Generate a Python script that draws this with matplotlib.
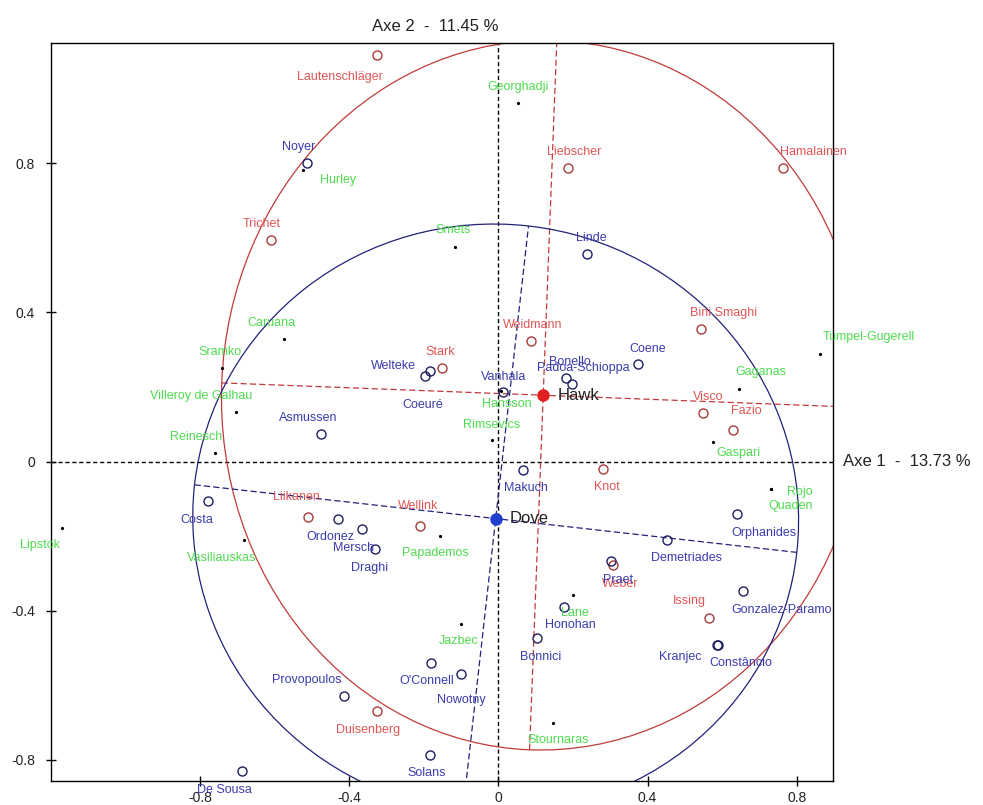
import matplotlib
matplotlib.use("Agg")
import matplotlib.pyplot as plt
from matplotlib.patches import Ellipse
import numpy as np

plt.rcParams['font.family'] = ['Liberation Sans', 'DejaVu Sans']

# ---------------- data ----------------
# Hawk group (red)
hawk_names = ["Lautenschläger", "Trichet", "Liebscher", "Hamalainen", "Stark", "Weidmann",
              "Bini Smaghi", "Visco", "Fazio", "Knot", "Liikanen", "Wellink", "Weber",
              "Issing", "Duisenberg"]
hawk_x = [-0.327, -0.609, 0.187, 0.763, -0.152, 0.086, 0.543, 0.550, 0.630, 0.280,
          -0.511, -0.211, 0.308, 0.565, -0.327]
hawk_y = [1.091, 0.594, 0.788, 0.788, 0.251, 0.324, 0.357, 0.130, 0.086, -0.019,
          -0.149, -0.173, -0.277, -0.419, -0.670]
hawk_ldx = [-0.099, -0.027, 0.016, 0.082, -0.003, 0.007, 0.060, 0.013, 0.036, 0.010,
            -0.031, -0.004, 0.018, -0.053, -0.023]
hawk_ldy = [-0.058, 0.043, 0.042, 0.042, 0.043, 0.042, 0.042, 0.043, 0.050, -0.049,
            0.054, 0.053, -0.051, 0.044, -0.049]

# Dove group (blue)
dove_names = ["Noyer", "Linde", "Welteke", "Coeuré", "Vanhala", "Bonello", "Padoa-Schioppa",
              "Coene", "Asmussen", "Makuch", "Costa", "Ordonez", "Mersch", "Draghi", "Praet",
              "Demetriades", "Orphanides", "Gonzalez-Paramo", "Honohan", "Bonnici", "Kranjec",
              "Constâncio", "Provopoulos", "O'Connell", "Nowotny", "Solans", "De Sousa"]
dove_x = [-0.513, 0.237, -0.184, -0.197, 0.011, 0.181, 0.197, 0.375, -0.477, 0.067,
          -0.779, -0.430, -0.367, -0.332, 0.302, 0.452, 0.641, 0.657, 0.177, 0.104,
          0.587, 0.590, -0.415, -0.182, -0.101, -0.184, -0.689]
dove_y = [0.802, 0.557, 0.242, 0.229, 0.187, 0.223, 0.207, 0.261, 0.075, -0.023,
          -0.106, -0.155, -0.180, -0.235, -0.268, -0.211, -0.141, -0.348, -0.390, -0.474,
          -0.491, -0.493, -0.630, -0.540, -0.569, -0.788, -0.831]
dove_ldx = [-0.024, 0.011, -0.098, -0.005, 0.002, 0.011, 0.031, 0.026, -0.034, 0.007,
            -0.031, -0.022, -0.023, -0.013, 0.020, 0.053, 0.070, 0.103, 0.015, 0.009,
            -0.100, 0.060, -0.100, -0.011, 0.000, -0.009, -0.045]
dove_ldy = [0.043, 0.044, 0.014, -0.078, 0.040, 0.044, 0.043, 0.042, 0.043, -0.049,
            -0.050, -0.047, -0.051, -0.051, -0.049, -0.048, -0.051, -0.049, -0.048, -0.049,
            -0.032, -0.048, 0.043, -0.049, -0.072, -0.048, -0.050]

# Unclassified (green)
other_names = ["Georghadji", "Hurley", "Smets", "Caruana", "Sramko", "Villeroy de Galhau",
               "Reinesch", "Hansson", "Rimsevics", "Tumpel-Gugerell", "Gaganas", "Gaspari",
               "Rojo", "Quaden", "Lipstok", "Vasiliauskas", "Papademos", "Jazbec", "Lane",
               "Stournaras"]
other_x = [0.052, -0.525, -0.117, -0.575, -0.742, -0.705, -0.761, 0.008, -0.017, 0.863,
           0.646, 0.575, 0.732, 0.732, -1.171, -0.682, -0.157, -0.101, 0.201, 0.146]
other_y = [0.961, 0.782, 0.576, 0.330, 0.250, 0.132, 0.023, 0.188, 0.057, 0.288,
           0.196, 0.053, -0.074, -0.074, -0.177, -0.211, -0.200, -0.435, -0.357, -0.702]
other_ldx = [0.001, 0.095, -0.004, -0.034, -0.006, -0.092, -0.049, 0.014, -0.001, 0.130,
             0.059, 0.069, 0.077, 0.051, -0.060, -0.061, -0.011, -0.007, 0.004, 0.015]
other_ldy = [0.043, -0.027, 0.045, 0.043, 0.043, 0.043, 0.043, -0.034, 0.042, 0.045,
             0.045, -0.030, -0.008, -0.046, -0.048, -0.048, -0.045, -0.047, -0.048, -0.046]

# Class centres and ellipses
class_names = ["Hawk", "Dove"]
class_x = [0.120, -0.0075]
class_y = [0.178, -0.153]
ell_a = [0.863, 0.813]      # semi-axis 1
ell_b = [0.952, 0.790]      # semi-axis 2
ell_angle = [-2.2, -6.4]    # degrees

axis1_label = "Axe 1  -  13.73 %"
axis2_label = "Axe 2  -  11.45 %"
tick_vals = [-0.8, -0.4, 0, 0.4, 0.8]
tick_labels = ["-0.8", "-0.4", "0", "0.4", "0.8"]

# ---------------- styles ----------------
RED_TXT = "#e05656"
BLUE_TXT = "#3c3cae"
GREEN_TXT = "#4fdc4f"
RED_LINE = "#c03a3a"
BLUE_LINE = "#22227a"
RED_PT = "#a83a3a"
BLUE_PT = "#1e1e60"

fig = plt.figure(figsize=(9.83, 8.05), dpi=100)
ax = fig.add_axes([51 / 983, 24 / 805, 782 / 983, 738 / 805])
ax.set_xlim(-1.2, 0.897)
ax.set_ylim(-0.857, 1.123)
ax.set_aspect('equal', adjustable='box')

# reference axes
ax.axhline(0, color='black', lw=1.0, ls=(0, (3, 2)), zorder=1)
ax.axvline(0, color='black', lw=1.0, ls=(0, (3, 2)), zorder=1)

# ellipses with their axes
line_cols = [RED_LINE, BLUE_LINE]
for i in range(2):
    cx, cy = class_x[i], class_y[i]
    e = Ellipse((cx, cy), 2 * ell_a[i], 2 * ell_b[i], angle=ell_angle[i],
                fill=False, edgecolor=line_cols[i], lw=0.9, zorder=2)
    ax.add_patch(e)
    th = np.deg2rad(ell_angle[i])
    ux, uy = np.cos(th), np.sin(th)
    vx, vy = -np.sin(th), np.cos(th)
    ax.plot([cx - ell_a[i] * ux, cx + ell_a[i] * ux], [cy - ell_a[i] * uy, cy + ell_a[i] * uy],
            color=line_cols[i], lw=0.9, ls=(0, (5, 2.5)), zorder=2)
    ax.plot([cx - ell_b[i] * vx, cx + ell_b[i] * vx], [cy - ell_b[i] * vy, cy + ell_b[i] * vy],
            color=line_cols[i], lw=0.9, ls=(0, (5, 2.5)), zorder=2)

# points
ax.plot(hawk_x, hawk_y, 'o', mfc='none', mec=RED_PT, ms=6.5, mew=1.0, zorder=3)
ax.plot(dove_x, dove_y, 'o', mfc='none', mec=BLUE_PT, ms=6.5, mew=1.0, zorder=3)
ax.plot(other_x, other_y, 'o', color='black', ms=1.3, zorder=3)

fs = 9
for n, x, y, dx, dy in zip(hawk_names, hawk_x, hawk_y, hawk_ldx, hawk_ldy):
    ax.text(x + dx, y + dy, n, color=RED_TXT, fontsize=fs, ha='center', va='center',
            clip_on=False, zorder=4)
for n, x, y, dx, dy in zip(dove_names, dove_x, dove_y, dove_ldx, dove_ldy):
    ax.text(x + dx, y + dy, n, color=BLUE_TXT, fontsize=fs, ha='center', va='center',
            clip_on=False, zorder=4)
for n, x, y, dx, dy in zip(other_names, other_x, other_y, other_ldx, other_ldy):
    ax.text(x + dx, y + dy, n, color=GREEN_TXT, fontsize=fs, ha='center', va='center',
            clip_on=False, zorder=4)

# class centres
cen_cols = ['#e02020', '#1f3fd0']
for i in range(2):
    ax.plot(class_x[i], class_y[i], 'o', color=cen_cols[i], ms=8, zorder=5)
    ax.text(class_x[i] + 0.038, class_y[i], class_names[i], color='#222222', fontsize=12,
            ha='left', va='center', zorder=5)

# axis titles
ax.text(0.0, 1.167, axis2_label, fontsize=12, color='#222222', ha='right', va='center',
        clip_on=False)
ax.text(0.925, 0.0, axis1_label, fontsize=12, color='#222222', ha='left', va='center',
        clip_on=False)

ax.set_xticks(tick_vals)
ax.set_xticklabels(tick_labels)
ax.set_yticks(tick_vals)
ax.set_yticklabels(tick_labels)
ax.tick_params(direction='inout', length=7, width=1.0, labelsize=10, labelcolor='#222222')
ax.tick_params(axis='y', pad=8)
ax.tick_params(axis='x', pad=4)
for s in ax.spines.values():
    s.set_linewidth(1.0)

fig.savefig("out.png", dpi=100)
